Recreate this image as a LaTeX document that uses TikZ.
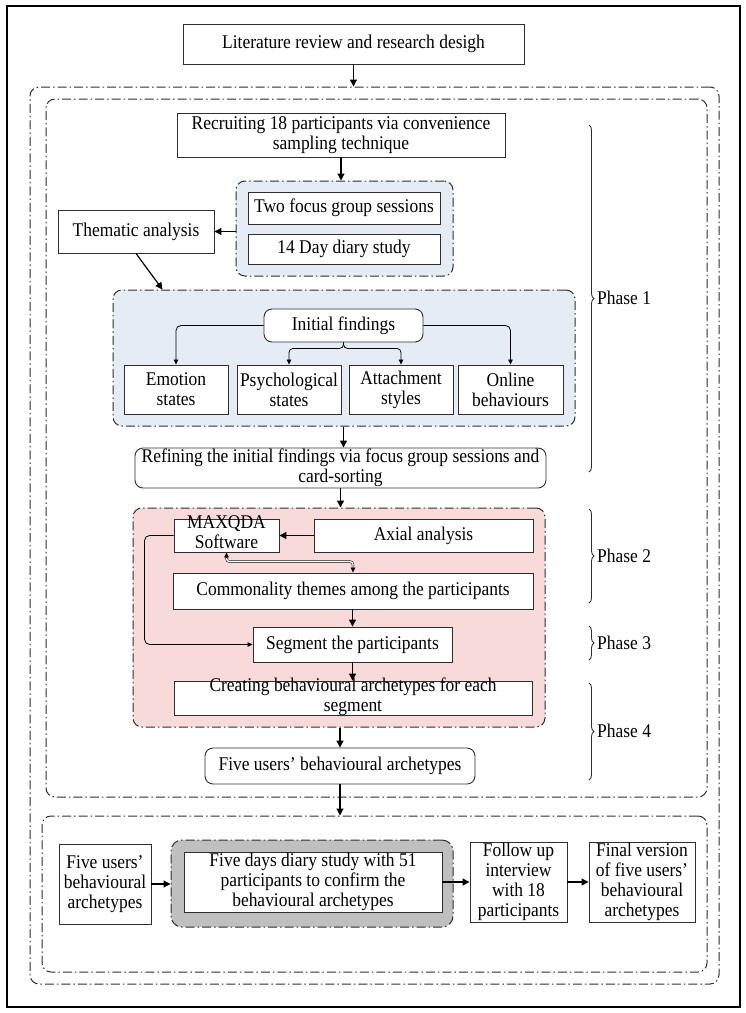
\documentclass[tikz,border=0pt]{standalone}
\usepackage{fontspec}
\setmainfont{Liberation Serif}[FakeStretch=0.9]
\usetikzlibrary{arrows.meta,calc,decorations.pathreplacing}
\newcommand\dfont{\fontsize{19.4pt}{20pt}\selectfont}
\definecolor{bluefill}{HTML}{E5ECF6}
\definecolor{pinkfill}{HTML}{F8DADA}
\definecolor{grayfill}{HTML}{BFBFBF}
\definecolor{edge}{HTML}{2E2E2E}
\begin{document}
\begin{tikzpicture}[x=1pt,y=-1pt,
  pbase/.style={draw=edge, line width=0.9pt, fill=white, inner sep=0pt, font=\dfont, text=black},
  pbox/.style={pbase, align=center},
  rbox/.style={pbox, rounded corners=8pt},
  cont/.style={draw=edge, line width=1pt, dash pattern=on 9pt off 3pt on 1.5pt off 3pt, rounded corners=9pt, inner sep=0pt},
  arr/.style={line width=1.2pt, -{Triangle[length=7pt,width=7pt]}},
  sarr/.style={line width=0.8pt, -{Triangle[length=5pt,width=4.5pt]}, rounded corners=5pt},
  phase/.style={font=\dfont, anchor=west, inner sep=0pt},
  brc/.style={decorate, decoration={brace, amplitude=5pt}, line width=0.9pt, draw=edge}
]
\useasboundingbox (0,0) rectangle (746,1013);
\fill[white] (0,0) rectangle (746,1013);
\draw[line width=2pt] (7,6) rectangle (740,1007);

% containers
\node[cont, minimum width=689pt, minimum height=897pt] (outerdash) at (374.5,535.5) {};
\node[cont, minimum width=661pt, minimum height=698pt] (phases) at (376.5,448) {};
\node[cont, minimum width=665pt, minimum height=156pt] (bot) at (374.5,894) {};
\node[cont, fill=bluefill, minimum width=217pt, minimum height=95pt] (blue1) at (344.5,228.5) {};
\node[cont, fill=bluefill, minimum width=462pt, minimum height=136pt] (blue2) at (344,358) {};
\node[cont, fill=pinkfill, minimum width=412pt, minimum height=219pt] (pink) at (339,617.5) {};
\node[cont, fill=grayfill, rounded corners=11pt, minimum width=282pt, minimum height=87pt] (gray) at (312,883.5) {};

% boxes
\node[pbox, minimum width=341pt, minimum height=40pt] (lit) at (353.5,44) {Literature review and research desigh};
\node[pbox, minimum width=328pt, minimum height=44pt] (recr) at (341,135) {Recruiting 18 participants via convenience\\sampling technique};
\node[pbox, minimum width=192pt, minimum height=32pt] (two) at (344,208) {Two focus group sessions};
\node[pbox, minimum width=192pt, minimum height=30pt] (diary) at (344,249) {14 Day diary study};
\node[pbox, minimum width=156pt, minimum height=43pt] (them) at (136,231.5) {Thematic analysis};
\node[rbox, minimum width=159pt, minimum height=33pt] (init) at (343.5,325.5) {Initial findings};
\node[pbox, minimum width=104pt, minimum height=49pt] (emo) at (176,389.5) {Emotion\\states};
\node[pbox, minimum width=104pt, minimum height=49pt] (psy) at (289,389.5) {Psychological\\states};
\node[pbox, minimum width=104pt, minimum height=49pt] (att) at (401,389.5) {Attachment\\styles};
\node[pbox, minimum width=105pt, minimum height=49pt] (onl) at (510.5,389.5) {Online\\behaviours};
\node[rbox, minimum width=411pt, minimum height=40pt] (ref) at (340.5,468) {Refining the initial findings via focus group sessions and\\card-sorting};
\node[pbase, minimum width=105pt, minimum height=33pt] (maxq) at (226.5,535.5) {\raisebox{-13pt}[0pt][0pt]{\begin{tabular}[b]{@{}c@{}}MAXQDA\\Software\end{tabular}}};
\node[pbox, minimum width=219pt, minimum height=33pt] (axial) at (423.5,535.5) {Axial analysis};
\node[pbox, minimum width=360pt, minimum height=36pt] (comm) at (353,591) {Commonality themes among the participants};
\node[pbox, minimum width=199pt, minimum height=35pt] (seg) at (352.5,644.5) {Segment the participants};
\node[pbase, minimum width=358pt, minimum height=34pt] (crea) at (353,698) {\raisebox{-13pt}[0pt][0pt]{\begin{tabular}[b]{@{}c@{}}Creating behavioural archetypes for each\\segment\end{tabular}}};
\node[rbox, minimum width=270pt, minimum height=36pt] (five) at (340,766) {Five users’ behavioural archetypes};
\node[pbox, minimum width=92pt, minimum height=80pt] (fsmall) at (105,884) {Five users’\\behavioural\\archetypes};
\node[pbox, minimum width=258pt, minimum height=60pt] (fdays) at (313,882) {Five days diary study with 51\\participants to confirm the\\behavioural archetypes};
\node[pbox, minimum width=97pt, minimum height=80pt] (fol) at (518.5,882) {Follow up\\interview\\with 18\\participants};
\node[pbox, minimum width=106pt, minimum height=80pt] (fin) at (642,882) {Final version\\of five users’\\behavioural\\archetypes};

% phases
\coordinate (p1a) at (589,125); \coordinate (p1b) at (589,472);
\coordinate (p2a) at (589,509); \coordinate (p2b) at (589,603);
\coordinate (p3a) at (589,626); \coordinate (p3b) at (589,660);
\coordinate (p4a) at (589,683); \coordinate (p4b) at (589,780);
\draw[brc] (p1a) -- (p1b);
\draw[brc] (p2a) -- (p2b);
\draw[brc] (p3a) -- (p3b);
\draw[brc] (p4a) -- (p4b);
\node[phase] (ph1) at (597,298) {Phase 1};
\node[phase] (ph2) at (597,556) {Phase 2};
\node[phase] (ph3) at (597,643) {Phase 3};
\node[phase] (ph4) at (597,731) {Phase 4};

% connectors
\draw[arr] (lit.south) -- (lit.south |- outerdash.north);
\draw[arr] (recr.south) -- (recr.south |- blue1.north);
\draw[arr] (blue1.west |- them.east) -- (them.east);
\draw[arr] (them.south) -- ($(blue2.north west)+(50,0)$);
\draw[sarr] (init.west) -| (emo.north);
\draw[sarr] (init.east) -| (onl.north);
\draw[sarr, rounded corners=4pt] (init.south) -- ++(0,6) -| (psy.north);
\draw[sarr, rounded corners=4pt] (init.south) -- ++(0,6) -| (att.north);
\draw[arr] (init.south |- blue2.south) -- (init.south |- ref.north);
\draw[arr] (ref.south) -- (ref.south |- pink.north);
\draw[arr] (axial.west) -- (maxq.east);
\draw[line width=0.5pt, double distance=1.4pt, rounded corners=3pt] ($(maxq.south)+(0,4)$) |- ($(comm.north)+(0,-11)$) -- ($(comm.north)+(0,-4)$);
\draw[line width=0.8pt, -{Triangle[length=5pt,width=4.5pt]}] ($(maxq.south)+(0,5)$) -- (maxq.south);
\draw[line width=0.8pt, -{Triangle[length=5pt,width=4.5pt]}] ($(comm.north)+(0,-5)$) -- (comm.north);
\draw[arr] (comm.south -| seg.north) -- (seg.north);
\draw[sarr] (maxq.west) -- ++(-29,0) |- (seg.west);
\draw[arr] (seg.south) -- (seg.south |- crea.north);
\draw[arr] (five.north |- pink.south) -- (five.north);
\draw[arr] (five.south) -- (five.south |- bot.north);
\draw[arr] (fsmall.east) -- (fsmall.east -| gray.west);
\draw[arr] (fdays.east) -- (fol.west);
\draw[arr] (fol.east) -- (fin.west);
\end{tikzpicture}
\end{document}
